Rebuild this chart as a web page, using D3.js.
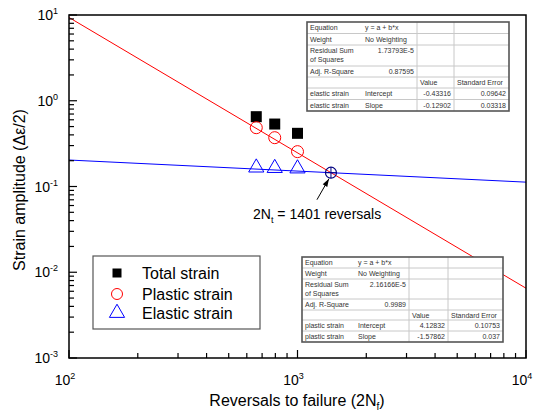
<!DOCTYPE html>
<html><head><meta charset="utf-8">
<script src="https://cdn.jsdelivr.net/npm/d3@7"></script>
<style>body{margin:0;background:#fff;}svg{display:block;font-family:Arial,"Liberation Sans",sans-serif;}</style>
</head><body>
<svg id="c" width="534" height="415"></svg>
<script>
// ---- data ----
const reversals = [660, 795, 1000];
const totalStrain = [0.652, 0.535, 0.417];
const plasticStrain = [0.485, 0.371, 0.255];
const elasticStrain = [0.166, 0.164, 0.162];
const plasticFit = [4.12832, -1.57862];   // log10(y) = a + b*log10(x)
const elasticFit = [-0.43316, -0.12902];
const transitionLife = 1401;
const xMajorExps = [2, 3, 4];
const yMajorExps = [1, 0, -1, -2, -3];
const legendLabels = ["Total strain", "Plastic strain", "Elastic strain"];
const elasticTable = [
  ["Equation", "y = a + b*x", "", ""],
  ["Weight", "No Weighting", "", ""],
  ["Residual Sum|of Squares", "1.73793E-5", "", ""],
  ["Adj. R-Square", "0.87595", "", ""],
  ["", "", "Value", "Standard Error"],
  ["elastic strain", "Intercept", "-0.43316", "0.09642"],
  ["elastic strain", "Slope", "-0.12902", "0.03318"]
];
const plasticTable = [
  ["Equation", "y = a + b*x", "", ""],
  ["Weight", "No Weighting", "", ""],
  ["Residual Sum|of Squares", "2.16166E-5", "", ""],
  ["Adj. R-Square", "0.9989", "", ""],
  ["", "", "Value", "Standard Error"],
  ["plastic strain", "Intercept", "4.12832", "0.10753"],
  ["plastic strain", "Slope", "-1.57862", "0.037"]
];

const svg = d3.select("#c");
const L = 69, R = 526, T = 15, B = 358;
const x = d3.scaleLog().domain([100, 10000]).range([L, R]);
const y = d3.scaleLog().domain([0.001, 10]).range([B, T]);

// fit lines
const fitLine = (f) => d3.line().x(d => x(d)).y(d => y(Math.pow(10, f[0] + f[1] * Math.log10(d))));
svg.append("path").attr("d", fitLine(plasticFit)([100, 10000])).attr("stroke", "#f00").attr("stroke-width", 1).attr("fill", "none");
svg.append("path").attr("d", fitLine(elasticFit)([100, 10000])).attr("stroke", "#00f").attr("stroke-width", 1).attr("fill", "none");

// markers
svg.selectAll(".tot").data(reversals).join("rect")
  .attr("x", (d) => x(d) - 5.5).attr("y", (d, i) => y(totalStrain[i]) - 5.5)
  .attr("width", 11).attr("height", 11).attr("fill", "#000");
svg.selectAll(".pl").data(reversals).join("circle")
  .attr("cx", d => x(d)).attr("cy", (d, i) => y(plasticStrain[i])).attr("r", 6)
  .attr("fill", "none").attr("stroke", "#f00").attr("stroke-width", 1);
const tri = d3.symbol().type(d3.symbolTriangle).size(100);
svg.selectAll(".el").data(reversals).join("path")
  .attr("d", tri).attr("transform", (d, i) => `translate(${x(d)},${y(elasticStrain[i])})`)
  .attr("fill", "none").attr("stroke", "#00f").attr("stroke-width", 1);

// transition point
const tx = x(transitionLife), ty = y(Math.pow(10, elasticFit[0] + elasticFit[1] * Math.log10(transitionLife)));
svg.append("circle").attr("cx", tx).attr("cy", ty).attr("r", 5.5).attr("fill", "none").attr("stroke", "#000080").attr("stroke-width", 1.2);
svg.append("line").attr("x1", tx - 5.5).attr("x2", tx + 5.5).attr("y1", ty).attr("y2", ty).attr("stroke", "#000080").attr("stroke-width", 1);
svg.append("line").attr("x1", tx).attr("x2", tx).attr("y1", ty - 5.5).attr("y2", ty + 5.5).attr("stroke", "#000080").attr("stroke-width", 1);
// arrow
const ax0 = tx - 14, ay0 = ty + 27, ax1 = tx - 2, ay1 = ty + 6;
svg.append("line").attr("x1", ax0).attr("y1", ay0).attr("x2", ax1).attr("y2", ay1).attr("stroke", "#000").attr("stroke-width", 1);
{
  const ang = Math.atan2(ay1 - ay0, ax1 - ax0), len = 8, w = 2.6;
  const bx = ax1 - len * Math.cos(ang), by = ay1 - len * Math.sin(ang);
  const px = -Math.sin(ang) * w, py = Math.cos(ang) * w;
  svg.append("path").attr("d", `M${ax1},${ay1}L${bx + px},${by + py}L${bx - px},${by - py}Z`).attr("fill", "#000");
}
const ann = svg.append("text").attr("x", 253).attr("y", 219).attr("font-size", 14).attr("fill", "#000");
ann.append("tspan").text("2N");
ann.append("tspan").attr("font-size", 9).attr("dy", 4).text("t");
ann.append("tspan").attr("dy", -4).text(" =  " + transitionLife + " reversals");

// tables
function drawTable(rows, left, top, colX, rowH) {
  const g = svg.append("g");
  const W = colX[colX.length - 1] - left;
  const H = d3.sum(rowH);
  g.append("rect").attr("x", left).attr("y", top).attr("width", W).attr("height", H).attr("fill", "#fff");
  let yy = top;
  const ys = [top];
  rowH.forEach(h => { yy += h; ys.push(yy); });
  ys.slice(1, -1).forEach(v => g.append("line").attr("x1", left).attr("x2", left + W).attr("y1", v).attr("y2", v).attr("stroke", "#c8c8c8").attr("stroke-width", 1));
  colX.slice(1, -1).forEach(v => g.append("line").attr("x1", v).attr("x2", v).attr("y1", top).attr("y2", top + H).attr("stroke", "#c8c8c8").attr("stroke-width", 1));
  g.append("rect").attr("x", left).attr("y", top).attr("width", W).attr("height", H).attr("fill", "none").attr("stroke", "#555").attr("stroke-width", 1.6);
  const cols = [left].concat(colX.slice(0, -1));
  rows.forEach((row, ri) => {
    row.forEach((cell, ci) => {
      if (!cell) return;
      const numeric = /^-?[0-9]/.test(cell);
      const lines = cell.split("|");
      lines.forEach((ln, li) => {
        const t = g.append("text").attr("font-size", 7).attr("fill", "#333")
          .attr("y", ys[ri] + 8 + li * 8.5);
        if (numeric) t.attr("x", colX[ci] - 3).attr("text-anchor", "end");
        else t.attr("x", cols[ci] + 3);
        t.text(ln);
      });
    });
  });
}
drawTable(elasticTable, 307, 22, [362, 417, 454, 509], [11.5, 11.5, 21, 11, 11, 11.5, 11.5]);
drawTable(plasticTable, 302, 257, [355, 409, 448, 503], [11, 11, 20, 11, 10, 11, 11]);

// legend
svg.append("rect").attr("x", 93).attr("y", 256).attr("width", 167).attr("height", 73).attr("fill", "#fff").attr("stroke", "#555").attr("stroke-width", 1.2);
const legY = [273, 294, 313];
svg.append("rect").attr("x", 112.5).attr("y", legY[0] - 4.5).attr("width", 9).attr("height", 9).attr("fill", "#000");
svg.append("circle").attr("cx", 117).attr("cy", legY[1]).attr("r", 5.5).attr("fill", "none").attr("stroke", "#f00");
svg.append("path").attr("d", tri).attr("transform", `translate(117,${legY[2]})`).attr("fill", "none").attr("stroke", "#00f");
legendLabels.forEach((t, i) => svg.append("text").attr("x", 142).attr("y", legY[i] + 6).attr("font-size", 16).attr("fill", "#000").text(t));

// axes frame
svg.append("rect").attr("x", L).attr("y", T).attr("width", R - L).attr("height", B - T).attr("fill", "none").attr("stroke", "#000").attr("stroke-width", 1.5);

// x ticks
x.ticks().forEach(v => {
  const major = Math.abs(Math.log10(v) - Math.round(Math.log10(v))) < 1e-9;
  svg.append("line").attr("x1", x(v)).attr("x2", x(v)).attr("y1", B).attr("y2", B - (major ? 8 : 5)).attr("stroke", "#000").attr("stroke-width", 1.2);
});
xMajorExps.forEach(e => {
  const t = svg.append("text").attr("x", x(Math.pow(10, e)) - 4).attr("y", 385).attr("text-anchor", "middle").attr("font-size", 14);
  t.append("tspan").text("10");
  t.append("tspan").attr("font-size", 9).attr("dy", -6).text(e);
});
// y ticks
y.ticks().forEach(v => {
  const major = Math.abs(Math.log10(v) - Math.round(Math.log10(v))) < 1e-9;
  svg.append("line").attr("x1", L).attr("x2", L + (major ? 8 : 5)).attr("y1", y(v)).attr("y2", y(v)).attr("stroke", "#000").attr("stroke-width", 1.2);
});
yMajorExps.forEach(e => {
  const t = svg.append("text").attr("x", 58).attr("y", y(Math.pow(10, e)) + 5).attr("text-anchor", "end").attr("font-size", 14);
  t.append("tspan").text("10");
  t.append("tspan").attr("font-size", 9).attr("dy", -6).text(e);
});

// axis titles
const xt = svg.append("text").attr("x", 297).attr("y", 406).attr("text-anchor", "middle").attr("font-size", 16);
xt.append("tspan").text("Reversals to failure (2N");
xt.append("tspan").attr("font-size", 10).attr("dy", 4).text("f");
xt.append("tspan").attr("dy", -4).text(")");
svg.append("text").attr("transform", "translate(25,190) rotate(-90)").attr("text-anchor", "middle").attr("font-size", 16)
  .text("Strain amplitude (\u0394\u03b5/2)");
</script>
</body></html>
